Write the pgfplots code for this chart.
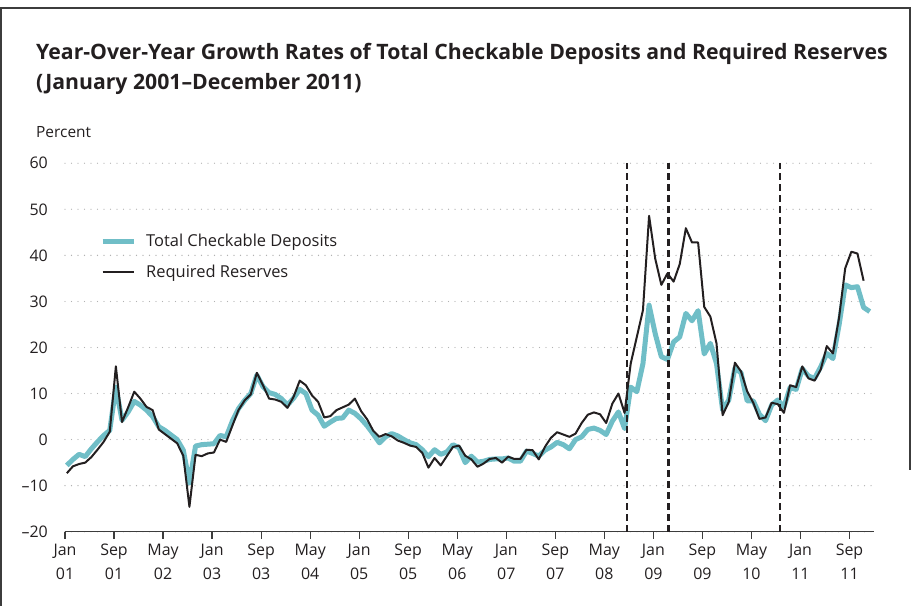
\documentclass[border=0pt]{standalone}
\usepackage{pgfplots}
\pgfplotsset{compat=1.18}
\usepackage{pgfplotstable}
\usepackage{fontspec}
\setmainfont{Open Sans}
\definecolor{tcd}{RGB}{112,190,199}
\definecolor{rrc}{RGB}{35,31,32}
\definecolor{axc}{RGB}{60,60,60}

\pgfplotstableread{
k v
0 -5.6
1 -4.3
2 -3.2
3 -3.7
4 -2.0
5 -0.5
6 0.9
7 2.0
8 11.4
9 4.2
10 6.0
11 8.3
12 7.5
13 6.4
14 5.0
15 2.8
16 2.0
17 1.0
18 0.0
19 -2.3
20 -9.4
21 -1.4
22 -1.1
23 -1.0
24 -0.9
25 0.9
26 0.6
27 4.0
28 6.7
29 8.5
30 10.0
31 14.0
32 11.5
33 10.2
34 9.8
35 8.9
36 7.5
37 9.0
38 10.9
39 10.0
40 6.4
41 5.3
42 2.9
43 3.8
44 4.6
45 4.7
46 6.4
47 5.7
48 4.5
49 3.0
50 1.2
51 -0.7
52 0.6
53 1.3
54 0.8
55 0.0
56 -0.7
57 -1.1
58 -2.2
59 -3.7
60 -2.2
61 -3.2
62 -2.7
63 -1.1
64 -1.8
65 -5.0
66 -3.6
67 -4.9
68 -4.7
69 -4.3
70 -4.2
71 -4.2
72 -4.0
73 -4.7
74 -4.7
75 -2.5
76 -3.0
77 -3.6
78 -2.3
79 -1.6
80 -0.6
81 -1.1
82 -2.0
83 0.0
84 0.6
85 2.2
86 2.5
87 2.0
88 1.1
89 4.0
90 6.0
91 2.4
92 11.4
93 10.4
94 16.5
95 29.2
96 23.0
97 18.0
98 17.4
99 21.2
100 22.3
101 27.4
102 25.8
103 28.0
104 18.6
105 20.9
106 16.5
107 6.4
108 8.6
109 15.5
110 14.5
111 8.4
112 8.4
113 5.5
114 4.1
115 7.5
116 8.6
117 7.1
118 11.3
119 10.9
120 15.4
121 13.8
122 13.3
123 15.8
124 18.7
125 17.6
126 24.9
127 33.6
128 33.0
129 33.2
130 28.7
131 27.8
}\tcdtable

\pgfplotstableread{
k v
0 -7.3
1 -5.8
2 -5.3
3 -5.0
4 -3.8
5 -2.2
6 -0.5
7 1.7
8 15.9
9 3.8
10 7.0
11 10.4
12 8.9
13 7.1
14 6.4
15 2.2
16 1.2
17 0.2
18 -0.8
19 -3.5
20 -14.6
21 -3.3
22 -3.6
23 -3.0
24 -2.8
25 0.0
26 -0.5
27 3.0
28 6.4
29 8.5
30 9.8
31 14.5
32 11.8
33 8.9
34 8.7
35 8.2
36 6.9
37 9.3
38 12.8
39 11.8
40 9.6
41 8.2
42 4.8
43 5.1
44 6.4
45 7.0
46 7.6
47 8.9
48 6.2
49 4.4
50 1.9
51 0.6
52 1.2
53 0.7
54 -0.2
55 -0.7
56 -1.3
57 -1.6
58 -2.9
59 -6.1
60 -4.0
61 -5.6
62 -3.6
63 -1.6
64 -1.3
65 -3.5
66 -4.3
67 -5.9
68 -5.2
69 -4.2
70 -4.0
71 -5.0
72 -3.7
73 -4.2
74 -4.2
75 -2.2
76 -2.3
77 -4.3
78 -1.6
79 0.4
80 1.6
81 1.1
82 0.6
83 1.3
84 3.6
85 5.4
86 5.9
87 5.5
88 3.6
89 7.8
90 10.0
91 5.8
92 16.5
93 22.3
94 28.1
95 48.6
96 39.3
97 33.6
98 36.1
99 34.3
100 38.1
101 45.9
102 42.8
103 42.8
104 28.8
105 26.7
106 20.9
107 5.3
108 8.2
109 16.7
110 14.8
111 10.5
112 8.0
113 4.5
114 4.8
115 8.0
116 7.7
117 5.8
118 11.8
119 11.4
120 15.9
121 13.3
122 12.8
123 15.2
124 20.3
125 18.7
126 26.5
127 37.2
128 40.8
129 40.4
130 34.5
}\rrtable

\begin{document}
\begin{tikzpicture}[x=1bp,y=1bp]
\path (0,0) rectangle (917,606);
\draw[line width=1.2bp, axc] (1,0) -- (1,598) -- (910,598) -- (910,136);
\node[anchor=base west, inner sep=0pt, font=\fontsize{21.3}{25}\selectfont\bfseries, text=rrc] at (36,546) {Year-Over-Year Growth Rates of Total Checkable Deposits and Required Reserves};
\node[anchor=base west, inner sep=0pt, font=\fontsize{21.3}{25}\selectfont\bfseries, text=rrc] at (36,516) {(January 2001–December 2011)};
\node[anchor=base west, inner sep=0pt, font=\fontsize{15.5}{19}\selectfont, text=rrc] at (36,468) {Percent};
\begin{axis}[
  at={(65bp,74.3bp)}, anchor=south west,
  scale only axis, width=809bp, height=368.4bp,
  xmin=-0.3, xmax=131.7, ymin=-20, ymax=60,
  axis x line*=bottom, axis y line*=left,
  x axis line style={-, line width=1.5bp, draw=axc},
  y axis line style={draw=none},
  xtick={-0.3,7.7,15.7,23.7,31.7,39.7,47.7,55.7,63.7,71.7,79.7,87.7,95.7,103.7,111.7,119.7,127.7},
  xticklabels={{Jan\\01},{Sep\\01},{May\\02},{Jan\\03},{Sep\\03},{May\\04},{Jan\\05},{Sep\\05},{May\\06},{Jan\\07},{Sep\\07},{May\\08},{Jan\\09},{Sep\\09},{May\\10},{Jan\\11},{Sep\\11}},
  xticklabel style={align=center, font=\fontsize{16}{24}\selectfont, text=rrc, inner sep=0pt, yshift=-5bp},
  tick align=outside, major tick length=7bp,
  xtick style={line width=1.2bp, draw=axc},
  ytick={-20,-10,0,10,20,30,40,50,60},
  yticklabels={–20,–10,0,10,20,30,40,50,60},
  ytick style={draw=none},
  yticklabel style={font=\fontsize{16}{20}\selectfont, text=rrc, anchor=east, inner sep=0pt, xshift=-10bp},
  ymajorgrids, grid style={line width=1.3bp, draw=black!30, dash pattern=on 0bp off 6.5bp, line cap=round},
  clip=false,
  legend style={at={(rel axis cs:0.0433,0.808)}, anchor=north west, draw=none, fill=none,
    font=\fontsize{16.5}{20}\selectfont, text=rrc, inner sep=0pt, row sep=16.5bp,
    nodes={inner sep=0pt},
    /tikz/every odd column/.append style={column sep=10bp}},
  legend cell align=left,
  legend image code/.code={\draw[#1] (0bp,0bp) -- (31bp,0bp);},
]
\addplot[tcd, line width=5bp, line join=round] table[x=k,y=v] {\tcdtable};
\addlegendentry{Total Checkable Deposits}
\addplot[rrc, line width=2bp, line join=round] table[x=k,y=v] {\rrtable};
\addlegendentry{Required Reserves}
\draw[rrc, line width=2.5bp, dash pattern=on 7bp off 4bp] (axis cs:91.4,-20) -- (axis cs:91.4,60);
\draw[rrc, line width=2.5bp, dash pattern=on 7bp off 4bp] (axis cs:98.2,-20) -- (axis cs:98.2,60);
\draw[rrc, line width=2.5bp, dash pattern=on 7bp off 4bp] (axis cs:116.4,-20) -- (axis cs:116.4,60);
\end{axis}
\end{tikzpicture}
\end{document}
